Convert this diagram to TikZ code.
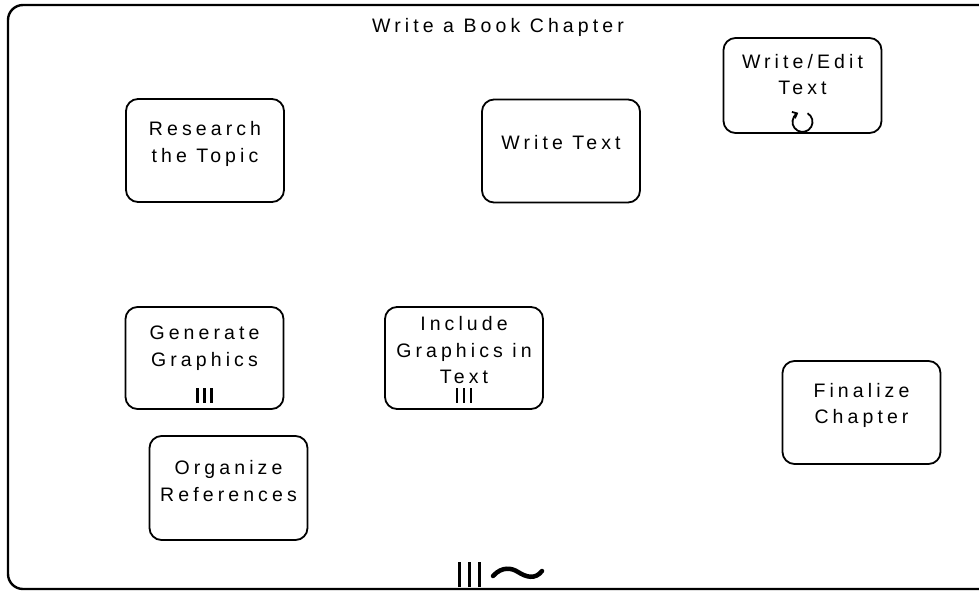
\documentclass[tikz,border=0pt]{standalone}
\usepackage{fontspec}
\setmainfont{Liberation Sans}[LetterSpace=21]
\usetikzlibrary{arrows.meta}
\tikzset{
  task/.style={draw, line width=1.8pt, rounded corners=12pt, minimum width=158pt, minimum height=103pt, inner sep=0pt},
  txt/.style={align=center, inner sep=0pt, font=\fontsize{19.5}{26.5}\selectfont},
  marker/.style={line width=2.5pt},
}
\begin{document}
\begin{tikzpicture}[x=1pt,y=-1pt]
\clip (0,0) rectangle (979,591);
\fill[white] (0,0) rectangle (979,591);
% outer sub-process frame
\draw[line width=2.4pt, rounded corners=15pt] (1000,5) -- (8,5) -- (8,589) -- (1000,589);
\node[txt] (title) at (498,27) {Write a Book Chapter};

% tasks
\node[task] (research) at (205,150.5) {};
\node[txt] (researchT) at (205,144) {Research\\the Topic};

\node[task] (write) at (561,151) {};
\node[txt] (writeT) at (561,143) {Write Text};

\node[task, minimum height=95pt] (edit) at (802.5,85.5) {};
\node[txt] (editT) at (802.5,74.5) {Write/Edit\\Text};

\node[task, minimum height=102pt] (gen) at (204.5,358) {};
\node[txt] (genT) at (204.5,348) {Generate\\Graphics};

\node[task, minimum height=102pt] (incl) at (464,358) {};
\node[txt] (inclT) at (464,350.5) {Include\\Graphics in\\Text};

\node[task, minimum height=104pt] (org) at (228.5,488) {};
\node[txt] (orgT) at (228.5,481) {Organize\\References};

\node[task] (fin) at (861.5,412.5) {};
\node[txt] (finT) at (861.5,405.5) {Finalize\\Chapter};

% loop marker
\coordinate (loopc) at ([yshift=12pt]edit.south);
\draw[line width=1.8pt, -{Straight Barb[length=4pt,width=7pt]}] (loopc) ++(-60:10) arc(-60:245:10);

% multi-instance markers
\foreach \n in {gen,incl}{
  \foreach \dx in {-7,0,7}{
    \draw[marker] ([xshift=\dx pt, yshift=7pt]\n.south) -- ++(0,-15);
  }
}

% sub-process markers (parallel + ad hoc)
\coordinate (mk) at (469,587);
\foreach \dx in {-10,0,10}{
  \draw[line width=3pt] ([xshift=\dx pt]mk) -- ++(0,-25);
}
\draw[line width=4.5pt, line cap=round] (493,576) .. controls (502,566) and (512,568) .. (518,572) .. controls (526,577) and (535,580) .. (542,571);
\end{tikzpicture}
\end{document}
